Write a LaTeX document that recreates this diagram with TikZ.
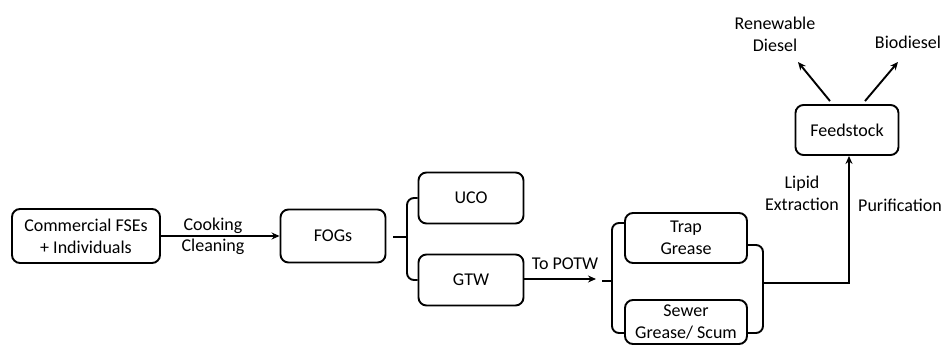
\documentclass[tikz,border=0pt]{standalone}
\usepackage{fontspec}
\setmainfont{Carlito}
\usetikzlibrary{arrows.meta,calc}
\tikzset{
  box/.style={draw, line width=1.9pt, rounded corners=8pt, align=center, inner sep=0pt, font=\fontsize{18}{22}\selectfont},
  lbl/.style={align=center, inner sep=0pt, font=\fontsize{18}{22}\selectfont},
  conn/.style={line width=1.9pt},
  arr/.style={line width=1.9pt, -{Stealth[length=8pt,width=7pt]}},
  brk/.style={line width=1.9pt, rounded corners=7pt}
}
\begin{document}
\begin{tikzpicture}[x=1pt,y=-1pt]
\useasboundingbox (0,0) rectangle (951,347);
\node[box, minimum width=148pt, minimum height=54pt] (com) at (86,236) {Commercial FSEs\\+ Individuals};
\node[box, minimum width=105pt, minimum height=53pt] (fog) at (333,236) {FOGs};
\node[box, minimum width=105pt, minimum height=51pt] (uco) at (471,198) {UCO};
\node[box, minimum width=105pt, minimum height=51pt] (gtw) at (471,280) {GTW};
\node[box, minimum width=122pt, minimum height=50pt] (trap) at (686,238) {Trap\\Grease};
\node[box, minimum width=122pt, minimum height=44pt] (sew) at (686,322) {Sewer\\Grease/ Scum};
\node[box, minimum width=103pt, minimum height=50pt] (feed) at (847,130) {Feedstock};

% labels
\node[lbl] (cook) at (213,226) {Cooking};
\node[lbl] (clean) at (213,247) {Cleaning};
\node[lbl] (potw) at (565,264) {To POTW};
\node[lbl] (lipid) at (802,193) {Lipid\\Extraction};
\node[lbl] (puri) at (900,205) {Purification};
\node[lbl] (rd) at (775,34) {Renewable\\Diesel};
\node[lbl] (bio) at (908,42) {Biodiesel};

% Commercial -> FOGs
\draw[arr] (com.east) -- (fog.west);

% FOGs bracket
\coordinate (b1) at (407,237);
\draw[conn] ($(fog.east)+(7,1)$) -- (b1);
\draw[brk] (uco.west) -| (b1) |- (gtw.west);

% GTW -> POTW
\coordinate (p1) at (596,279);
\draw[arr] (gtw.east |- p1) -- (p1);
\coordinate (b2) at (612,281);
\draw[conn] (602,281) -- (b2);
\draw[brk] ($(trap.west)+(0,-15)$) -| (b2) |- ($(sew.west)+(0,11)$);

% right bracket
\coordinate (b3) at (763,283);
\coordinate (up) at (849,283);
\draw[brk] ($(trap.east)+(0,7)$) -| (b3) |- ($(sew.east)+(0,11)$);
\draw[arr] (b3) -- (up) -- (up |- feed.south);

% top arrows
\draw[arr] ($(feed.north)+(-17,-3)$) -- (798,62);
\draw[arr] ($(feed.north)+(18,-3)$) -- (898,62);
\end{tikzpicture}
\end{document}
